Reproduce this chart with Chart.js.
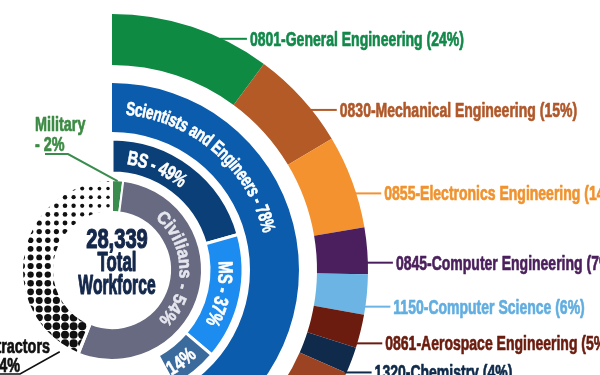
<!DOCTYPE html>
<html>
<head>
<meta charset="utf-8">
<script src="https://cdn.jsdelivr.net/npm/chart.js@4.4.1/dist/chart.umd.min.js"></script>
<style>
  html, body { margin: 0; padding: 0; width: 600px; height: 375px; overflow: hidden; background: #fff; }
  #wrap { position: absolute; left: -144px; top: 0; width: 744px; height: 540px; }
</style>
</head>
<body>
<div id="wrap"><canvas id="workforce" width="744" height="540"></canvas></div>
<script>
const workforceTotal = "28,339";
const workforceGroups = ["Military", "Civilians", "Contractors"];
const workforceShares = [2, 54, 44];
const scientistLabel = "Scientists and Engineers";
const scientistShare = 78; // percent of civilians
const degreeLabels = ["BS", "MS", "PhD"];
const degreeShares = [49, 37, 14];
const seriesLabels = [
  "0801-General Engineering",
  "0830-Mechanical Engineering",
  "0855-Electronics Engineering",
  "0845-Computer Engineering",
  "1150-Computer Science",
  "0861-Aerospace Engineering",
  "1320-Chemistry",
  "Other",
];
const seriesShares = [24, 15, 14, 7, 6, 5, 4, 25];

const seriesColors = ["#0e8a43", "#b35a27", "#f3922f", "#4b1f5e", "#6cb4e4", "#6b1c0e", "#0f2a4a", "#9b4322"];
const seriesTextColors = ["#12894a", "#b0582a", "#f0932f", "#4a1f5c", "#62aee0", "#6a1d0f", "#0f2a4a", "#9b4322"];
const degreeColors = ["#0b3f78", "#1c8cf0", "#3b6a9c"];
const groupColors = ["#3a8d4e", "#676a80", "#ffffff"];

// sweep of the scientists & engineers share of the whole workforce
const seSweep = 360 * workforceShares[1] / 100 * scientistShare / 100;

const FONT = '"Liberation Sans", Arial, sans-serif';

function paint(ctx, s, color, heavy) {
  ctx.fillText(s, 0, 0);
  if (heavy) {
    ctx.lineWidth = heavy;
    ctx.lineJoin = "round";
    ctx.strokeStyle = color;
    ctx.strokeText(s, 0, 0);
  }
}

function txt(ctx, s, x, y, size, sx, color, align, heavy) {
  ctx.save();
  ctx.font = "bold " + size + "px " + FONT;
  ctx.fillStyle = color;
  ctx.textAlign = align || "left";
  ctx.textBaseline = "alphabetic";
  ctx.translate(x, y);
  ctx.scale(sx, 1);
  paint(ctx, s, color, heavy === undefined ? 0.7 : heavy);
  ctx.restore();
}

// text bent along a ring; deg is a compass angle (0 = top, clockwise)
function arcText(ctx, cx, cy, s, r, deg, size, sx, color, opts) {
  opts = opts || {};
  ctx.save();
  ctx.font = "bold " + size + "px " + FONT;
  const chars = [...s];
  const sp = opts.spacing || 0;
  const widths = chars.map(ch => ctx.measureText(ch).width * sx);
  const total = widths.reduce((a, b) => a + b, 0) + sp * (chars.length - 1);
  const dir = opts.flip ? -1 : 1;
  let a0 = deg * Math.PI / 180;
  if (opts.center) a0 -= dir * total / r / 2;
  const capH = size * 0.72;
  ctx.fillStyle = color;
  ctx.textAlign = "center";
  ctx.textBaseline = "alphabetic";
  let cum = 0;
  chars.forEach((ch, i) => {
    const a = a0 + dir * (cum + widths[i] / 2) / r;
    ctx.save();
    ctx.translate(cx, cy);
    if (opts.flip) {
      ctx.rotate(a + Math.PI);
      ctx.translate(0, r + capH / 2);
    } else {
      ctx.rotate(a);
      ctx.translate(0, -(r - capH / 2));
    }
    ctx.scale(sx, 1);
    paint(ctx, ch, color, 0.6);
    ctx.restore();
    cum += widths[i] + sp;
  });
  ctx.restore();
}

const compass = a => (a + Math.PI / 2) * 180 / Math.PI;

const decorations = {
  id: "decorations",
  afterDatasetsDraw(chart) {
    const ctx = chart.ctx;
    const outer = chart.getDatasetMeta(0).data;
    const cx = outer[0].x, cy = outer[0].y;
    const R = outer[0].outerRadius;

    // halftone dots for contractors
    const ce = chart.getDatasetMeta(6).data[2];
    ctx.save();
    ctx.beginPath();
    ctx.arc(cx, cy, ce.outerRadius - 1, ce.startAngle + 0.03, ce.endAngle - 0.02);
    ctx.arc(cx, cy, ce.innerRadius + 1, ce.endAngle - 0.02, ce.startAngle + 0.03, true);
    ctx.closePath();
    ctx.clip();
    ctx.fillStyle = "#111";
    const step = 8.6;
    for (let gx = cx - ce.outerRadius; gx <= cx + ce.outerRadius; gx += step) {
      for (let gy = cy - ce.outerRadius; gy <= cy + ce.outerRadius; gy += step) {
        let a = Math.atan2(gy - cy, gx - cx);
        while (a < ce.startAngle) a += Math.PI * 2;
        const t = (a - ce.startAngle) / (ce.endAngle - ce.startAngle);
        if (t < 0 || t > 1) continue;
        const rr = Math.max(0.9, 4.2 - 2.5 * t);
        ctx.beginPath();
        ctx.arc(gx, gy, rr, 0, Math.PI * 2);
        ctx.fill();
      }
    }
    ctx.restore();

    // outer ring labels with leaders
    outer.forEach((el, i) => {
      const mid = (el.startAngle + el.endAngle) / 2;
      const y = cy + R * Math.sin(mid) + 12;
      const dy = y - cy;
      if (Math.abs(dy) >= R) return;
      const xEdge = cx + Math.sqrt(R * R - dy * dy);
      ctx.save();
      ctx.strokeStyle = seriesColors[i];
      ctx.lineWidth = 2;
      ctx.beginPath();
      ctx.moveTo(xEdge - 2, y);
      ctx.lineTo(xEdge + 25, y);
      ctx.stroke();
      ctx.restore();
      txt(ctx, seriesLabels[i] + " (" + seriesShares[i] + "%)", xEdge + 28, y + 7, 20, 0.7, seriesTextColors[i]);
    });

    // ring captions
    const se = chart.getDatasetMeta(2).data[0];
    const seR = (se.innerRadius + se.outerRadius) / 2;
    arcText(ctx, cx, cy, scientistLabel + " - " + scientistShare + "%", seR, compass(se.startAngle) + 5, 19, 0.72, "#ffffff");

    const deg = chart.getDatasetMeta(4).data;
    const dR = (deg[0].innerRadius + deg[0].outerRadius) / 2;
    arcText(ctx, cx, cy, degreeLabels[0] + " - " + degreeShares[0] + "%", dR, compass(deg[0].startAngle) + 8, 20, 0.74, "#ffffff");
    arcText(ctx, cx, cy, degreeLabels[1] + " - " + degreeShares[1] + "%", dR, compass((deg[1].startAngle + deg[1].endAngle) / 2), 20, 0.76, "#ffffff", { center: true });
    arcText(ctx, cx, cy, degreeShares[2] + "%", dR, compass((deg[2].startAngle + deg[2].endAngle) / 2) + 2, 20, 0.78, "#ffffff", { center: true, flip: true });

    const grp = chart.getDatasetMeta(6).data;
    const gR = (grp[1].innerRadius + grp[1].outerRadius) / 2;
    arcText(ctx, cx, cy, workforceGroups[1] + " - " + workforceShares[1] + "%", gR, compass(grp[1].startAngle) + 33, 18, 0.92, "#e6e6ef", { spacing: 0.6 });

    // center total
    txt(ctx, workforceTotal, cx + 5, cy - 22, 28, 0.72, "#14284b", "center", 1.2);
    txt(ctx, "Total", cx + 5, cy + 1, 28, 0.6, "#14284b", "center", 1.2);
    txt(ctx, "Workforce", cx + 5, cy + 24, 28, 0.56, "#14284b", "center", 1.2);

    // military callout
    const mil = grp[0];
    const mMid = (mil.startAngle + mil.endAngle) / 2;
    const mx = cx + (mil.outerRadius - 1) * Math.cos(mMid);
    const my = cy + (mil.outerRadius - 1) * Math.sin(mMid);
    ctx.save();
    ctx.strokeStyle = "#3a8d4e";
    ctx.lineWidth = 2;
    ctx.beginPath();
    ctx.moveTo(mx, my);
    ctx.lineTo(cx - 44, cy - 116);
    ctx.lineTo(cx - 67, cy - 116);
    ctx.stroke();
    ctx.restore();
    txt(ctx, workforceGroups[0], cx - 77, cy - 139, 20, 0.72, "#3d8b45");
    txt(ctx, "- " + workforceShares[0] + "%", cx - 77, cy - 119, 20, 0.72, "#3d8b45");

    // contractors callout
    const con = grp[2];
    const ca = con.startAngle + 11 * Math.PI / 180;
    const kx = cx + (con.outerRadius + 7) * Math.cos(ca);
    const ky = cy + (con.outerRadius + 7) * Math.sin(ca);
    ctx.save();
    ctx.strokeStyle = "#111";
    ctx.lineWidth = 1.6;
    ctx.beginPath();
    ctx.moveTo(kx, ky);
    ctx.lineTo(cx - 92, cy + 104);
    ctx.lineTo(cx - 130, cy + 104);
    ctx.stroke();
    ctx.restore();
    txt(ctx, workforceGroups[2], cx - 62, cy + 83, 20, 0.72, "#111", "right");
    txt(ctx, "- " + workforceShares[2] + "%", cx - 92, cy + 102, 20, 0.72, "#111", "right");
  }
};

const gap = w => ({ data: [1], backgroundColor: "rgba(0,0,0,0)", borderWidth: 0, hoverBorderWidth: 0, weight: w });

new Chart(document.getElementById("workforce"), {
  type: "doughnut",
  data: {
    labels: seriesLabels,
    datasets: [
      { data: seriesShares, backgroundColor: seriesColors, borderWidth: 0, hoverBorderWidth: 0, weight: 51, circumference: seSweep },
      gap(18),
      { data: [scientistShare], backgroundColor: "#0b5cad", borderWidth: 0, weight: 49, circumference: seSweep },
      gap(7),
      { data: degreeShares, backgroundColor: degreeColors, borderColor: "#fff", borderWidth: 3, weight: 34, circumference: seSweep },
      gap(7),
      { data: workforceShares, backgroundColor: groupColors, borderColor: "#fff", borderWidth: 2, weight: 32 },
    ],
  },
  options: {
    responsive: false,
    animation: false,
    events: [],
    cutout: 58,
    hoverOffset: 0,
    layout: { padding: { left: 0, top: 14, right: 232, bottom: 14 } },
    plugins: {
      legend: { display: false },
      tooltip: { enabled: false },
    },
  },
  plugins: [decorations],
});
</script>
</body>
</html>
